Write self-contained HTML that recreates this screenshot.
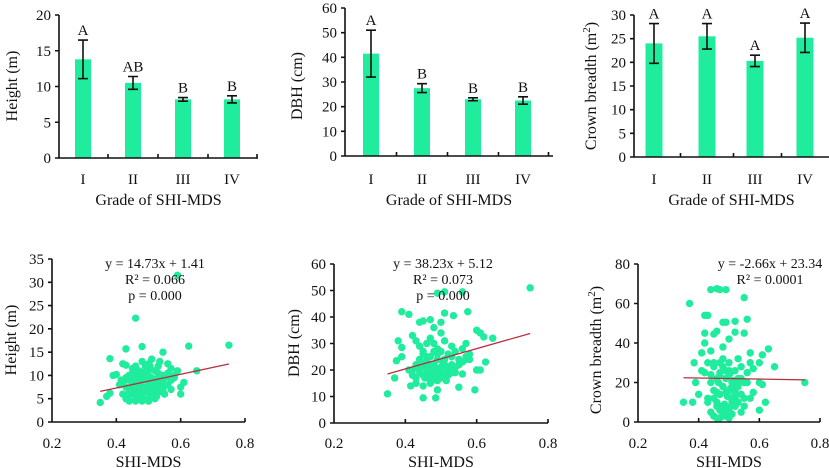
<!DOCTYPE html>
<html><head><meta charset="utf-8"><style>
html,body{margin:0;padding:0;background:#fff;}
svg{display:block;font-family:"Liberation Serif",serif;}
</style></head><body>
<svg id="fig" width="829" height="468" viewBox="0 0 829 468"></svg>
<script>
// ---- bar chart data ----
const grades = ["I","II","III","IV"];
const heightMeans = [13.8,10.5,8.2,8.2];
const heightErr = [2.7,0.9,0.25,0.5];
const heightLetters = ["A","AB","B","B"];
const heightTicks = [0,5,10,15,20];
const dbhMeans = [41.5,27.5,23,22.5];
const dbhErr = [9.5,1.8,0.6,1.5];
const dbhLetters = ["A","B","B","B"];
const dbhTicks = [0,10,20,30,40,50,60];
const crownMeans = [24,25.5,20.3,25.2];
const crownErr = [4.2,2.7,1.2,3.1];
const crownLetters = ["A","A","A","A"];
const crownTicks = [0,5,10,15,20,25,30];
// ---- scatter data ----
const xTicks = [0.2,0.4,0.6,0.8];
const hX = [0.59,0.46,0.75,0.625,0.48,0.43,0.545,0.38,0.35,0.65,0.60,0.61,0.60,0.39,0.40,0.37,0.38,0.42,0.43,0.44,0.45,0.46,0.47,0.48,0.49,0.50,0.51,0.52,0.53,0.54,0.55,0.56,0.57,0.58,0.42,0.44,0.46,0.48,0.50,0.52,0.54,0.56,0.43,0.45,0.47,0.49,0.51,0.53,0.55,0.57,0.44,0.46,0.48,0.50,0.52,0.54,0.45,0.47,0.49,0.51,0.53,0.46,0.48,0.50,0.52,0.41,0.57,0.59,0.55,0.50,0.47,0.44,0.53,0.49,0.51,0.58,0.415,0.455,0.505,0.535,
 0.43,0.44,0.45,0.46,0.47,0.48,0.49,0.50,0.51,0.52,0.53,0.54,0.435,0.445,0.455,0.465,0.475,0.485,0.495,0.505,0.515,0.525,0.535,0.545,0.44,0.46,0.48,0.50,0.52,0.47,0.49,0.51,0.43,0.45,0.53,0.55,0.56,0.42,0.57,0.48,0.50,0.46];
const hY = [31.5,22.3,16.5,16.3,16.2,15.7,15,13.6,4.2,11,6,8.5,7.5,10,10.2,5.5,6.2,12.5,12.2,9,11.5,12,10.5,13,11,12.5,13.5,11,12,10,9.5,12.5,11.5,10,6,7,8,9,8.5,7.5,9,8,5,6,7,6.5,7.5,8,6,7,4.5,5,5.5,4.5,5,6.5,8.5,9.5,10,9.5,10.5,7,6,5,7,8,9,11,8,11,8.5,10,6.5,7.5,6.8,9.5,9,10.8,12,13,
 7.5,6.5,8,7,6,7.5,6.5,8,7,6,7.5,8.5,5.5,9,6,8.5,5,7,9,6,8,5.5,9,7,10,9.5,10.5,10,8.5,11,12,9,9.5,10.5,9.5,10,10.5,8.5,9,4.5,4.5,4.5];
const dX = [0.35,0.75,0.49,0.51,0.56,0.39,0.41,0.51,0.575,0.535,0.44,0.45,0.50,0.47,0.60,0.61,0.62,0.645,0.38,0.39,0.375,0.37,0.39,0.60,0.61,0.625,0.595,0.55,0.45,0.485,0.49,0.415,0.43,0.56,0.42,0.43,0.44,0.45,0.46,0.47,0.48,0.49,0.50,0.51,0.52,0.53,0.54,0.55,0.56,0.57,0.58,0.42,0.44,0.46,0.48,0.50,0.52,0.54,0.56,0.43,0.45,0.47,0.49,0.51,0.53,0.55,0.44,0.46,0.48,0.50,0.52,0.47,0.49,0.51,0.45,0.43,0.53,0.57,0.41,0.50,0.48,
 0.44,0.45,0.46,0.47,0.48,0.49,0.50,0.51,0.52,0.53,0.445,0.455,0.465,0.475,0.485,0.495,0.505,0.515,0.525,0.46,0.48,0.50,0.52,0.47,0.49,0.51,0.43,0.54,0.55,0.42,0.57,0.58,0.45,0.47,0.49,0.51,0.53,0.48,0.50,0.46];
const dY = [11,51,49,49.5,49.5,42,41,41.5,42,40.5,38,38.5,38,39,35,34,32.5,32,31,28.5,23.5,17,25,20,20,23,12.5,13.5,9.5,9.5,12.5,14,15,18.5,33,31,29,27,25,32,30,28,34,31,26,29,27,24,28,30,26,20,21,19,22,20,18,21,23,17,18,16,19,17,20,22,24,23,22,21,19,15,16,18,14,22,25,24,20,27,36,
 19,21,18,20,17,19,21,18,20,22,23,17,22,16,21,18,23,16,21,22,19,17,20,18,24,22,21,19,22,18,25,24,26,25,26,24,19,27,20,30];
const cX = [0.44,0.46,0.47,0.49,0.37,0.55,0.42,0.43,0.56,0.52,0.48,0.49,0.46,0.45,0.42,0.52,0.55,0.63,0.65,0.75,0.60,0.61,0.60,0.61,0.62,0.60,0.35,0.38,0.39,0.385,0.42,0.41,0.42,0.43,0.44,0.45,0.46,0.47,0.48,0.49,0.50,0.51,0.52,0.53,0.54,0.55,0.56,0.57,0.58,0.43,0.45,0.47,0.49,0.51,0.53,0.55,0.57,0.44,0.46,0.48,0.50,0.52,0.54,0.45,0.47,0.49,0.51,0.53,0.46,0.48,0.50,0.52,0.47,0.49,0.51,0.48,0.50,0.40,0.41,0.58,0.57,0.54,0.44,0.50,
 0.46,0.47,0.48,0.49,0.50,0.51,0.52,0.465,0.475,0.485,0.495,0.505,0.515,0.47,0.48,0.49,0.50,0.51,0.46,0.48,0.50,0.52,0.45,0.53,0.44,0.54,0.47,0.49,0.51,0.485,0.495,0.505,0.43,0.55,0.56,0.52,0.45,0.53];
const cY = [67,67.5,67,67,60,63,54,54,52,51,50.5,50.5,46,44.5,45,45.5,45,37,28,20,30,34,20,19,10,6,10,10,20,30,40,35,25,30,20,28,15,25,32,22,30,18,26,22,28,12,20,30,15,10,12,8,15,10,20,8,12,5,8,4,6,12,5,3,6,3,4,10,22,18,16,14,2,8,12,38,42,14,26,27,35,22,36,24,
 10,14,18,22,26,12,16,20,6,9,13,17,21,24,28,3,7,11,2,5,2,8,16,18,24,14,30,26,20,4,15,25,12,20,25,10,30,32];
const hFit=[14.73,1.41], dFit=[38.23,5.12], cFit=[-2.66,23.34];

const svg=document.getElementById('fig');
const NS="http://www.w3.org/2000/svg";
function mk(tag,attrs,parent){const e=document.createElementNS(NS,tag);for(const k in attrs)e.setAttribute(k,attrs[k]);(parent||svg).appendChild(e);return e;}
function txt(s,x,y,size,anchor,parent,rot){const t=mk('text',{x:x,y:y,'font-size':size,'text-anchor':anchor||'middle',fill:'#111'},parent);if(rot)t.setAttribute('transform','rotate(-90 '+x+' '+y+')');t.textContent=s;return t;}
const GREEN="#1fec9c";
const TF=15, AF=16;

function barChart(name,ax,y0,yTop,xRight,ticks,means,errs,letters,centers,bw,title,titleX){
  const g=mk('g',{});
  
  
  const maxV=ticks[ticks.length-1];
  const sy=v=>y0-(v/maxV)*(y0-yTop);
  for(let i=0;i<means.length;i++){
    const b=mk('rect',{x:centers[i]-bw/2,y:sy(means[i]),width:bw,height:y0-sy(means[i]),fill:GREEN},g);
    
    
    const t=sy(means[i]+errs[i]),bt=sy(means[i]-errs[i]);
    const e=mk('path',{d:`M${centers[i]} ${t}V${bt}M${centers[i]-5} ${t}H${centers[i]+5}M${centers[i]-5} ${bt}H${centers[i]+5}`,stroke:'#111','stroke-width':1.6,fill:'none'},g);
    
    
    const l=txt(letters[i],centers[i],t-5,TF,'middle',g);
    
    
    const xl=txt(grades[i],centers[i],184,TF,'middle',g);
    
    
  }
  const step=(centers[1]-centers[0]);
  let d=`M${ax} ${yTop}V${y0}H${xRight}`;
  ticks.forEach(v=>{d+=`M${ax-4} ${sy(v)}H${ax}`;});
  for(let i=0;i<means.length;i++){const tx=centers[i]+step/2;d+=`M${tx} ${y0}V${y0-4}`;}
  const a=mk('path',{d:d,stroke:'#111','stroke-width':1.6,fill:'none'},g);
  
  
  ticks.forEach(v=>{const t=txt(String(v),ax-8,sy(v)+5,TF,'end',g);});
  const xt=txt('Grade of SHI-MDS',(ax+xRight)/2,205,AF,'middle',g);
  
  
  const yt=txt(title,titleX,86,AF,'middle',g,true);
  
  
  return yt;
}
barChart('height-bar-chart',59,158,15,258,heightTicks,heightMeans,heightErr,heightLetters,[83,133,183,232],16,'Height (m)',17);
barChart('dbh-bar-chart',345,156,8,553,dbhTicks,dbhMeans,dbhErr,dbhLetters,[371,422,473,523],16,'DBH (cm)',302);
const cyt=barChart('crown-bar-chart',634,157,15,829,crownTicks,crownMeans,crownErr,crownLetters,[654,707,755,805],17,'Crown breadth (m',596);
const sup=mk('tspan',{'baseline-shift':'super','font-size':11},cyt);sup.textContent='2';
const cl=mk('tspan',{},cyt);cl.textContent=')';

function scatter(name,ax,x8px,y0,yTop,yMax,yTicks,xs,ys,fit,title,titleX,titleY,ann,annX){
  const g=mk('g',{});
  
  
  const sx=v=>ax+(v-0.2)/0.6*(x8px-ax);
  const sy=v=>y0-(v/yMax)*(y0-yTop);
  for(let i=0;i<xs.length;i++){
    const c=mk('circle',{cx:sx(xs[i]),cy:sy(ys[i]),r:3.7,fill:GREEN},g);
    
    
  }
  const l=mk('line',{x1:sx(0.35),y1:sy(fit[0]*0.35+fit[1]),x2:sx(0.75),y2:sy(fit[0]*0.75+fit[1]),stroke:'#b5303c','stroke-width':1.3},g);
  
  
  let d=`M${ax} ${yTop}V${y0}H${x8px}`;
  yTicks.forEach(v=>{d+=`M${ax-4} ${sy(v)}H${ax}`;});
  xTicks.slice(1).forEach(v=>{d+=`M${sx(v)} ${y0}V${y0-4}`;});
  const a=mk('path',{d:d,stroke:'#111','stroke-width':1.6,fill:'none'},g);
  
  
  yTicks.forEach(v=>{const t=txt(String(v),ax-8,sy(v)+5,TF,'end',g);});
  xTicks.forEach(v=>{const t=txt(v.toFixed(1),sx(v),448,TF,'middle',g);});
  const xt=txt('SHI-MDS',(ax+x8px)/2,467,AF,'middle',g);
  
  
  const yt=txt(title,titleX,titleY,AF,'middle',g,true);
  
  
  ann.forEach((s,i)=>{const t=txt(s,annX,268+i*16,14,'middle',g);});
  return yt;
}
scatter('height-scatter',52,245,422,259,35,[0,5,10,15,20,25,30,35],hX,hY,hFit,'Height (m)',16,340,['y = 14.73x + 1.41','R² = 0.066','p = 0.000'],155);
scatter('dbh-scatter',334,548,423,264,60,[0,10,20,30,40,50,60],dX,dY,dFit,'DBH (cm)',299,343,['y = 38.23x + 5.12','R² = 0.073','p = 0.000'],443);
const c2=scatter('crown-scatter',638,820,422,264,80,[0,20,40,60,80],cX,cY,cFit,'Crown breadth (m',601,350,['y = -2.66x + 23.34','R² = 0.0001'],770);
const sup2=mk('tspan',{'baseline-shift':'super','font-size':11},c2);sup2.textContent='2';
const cl2=mk('tspan',{},c2);cl2.textContent=')';
</script>
</body></html>
